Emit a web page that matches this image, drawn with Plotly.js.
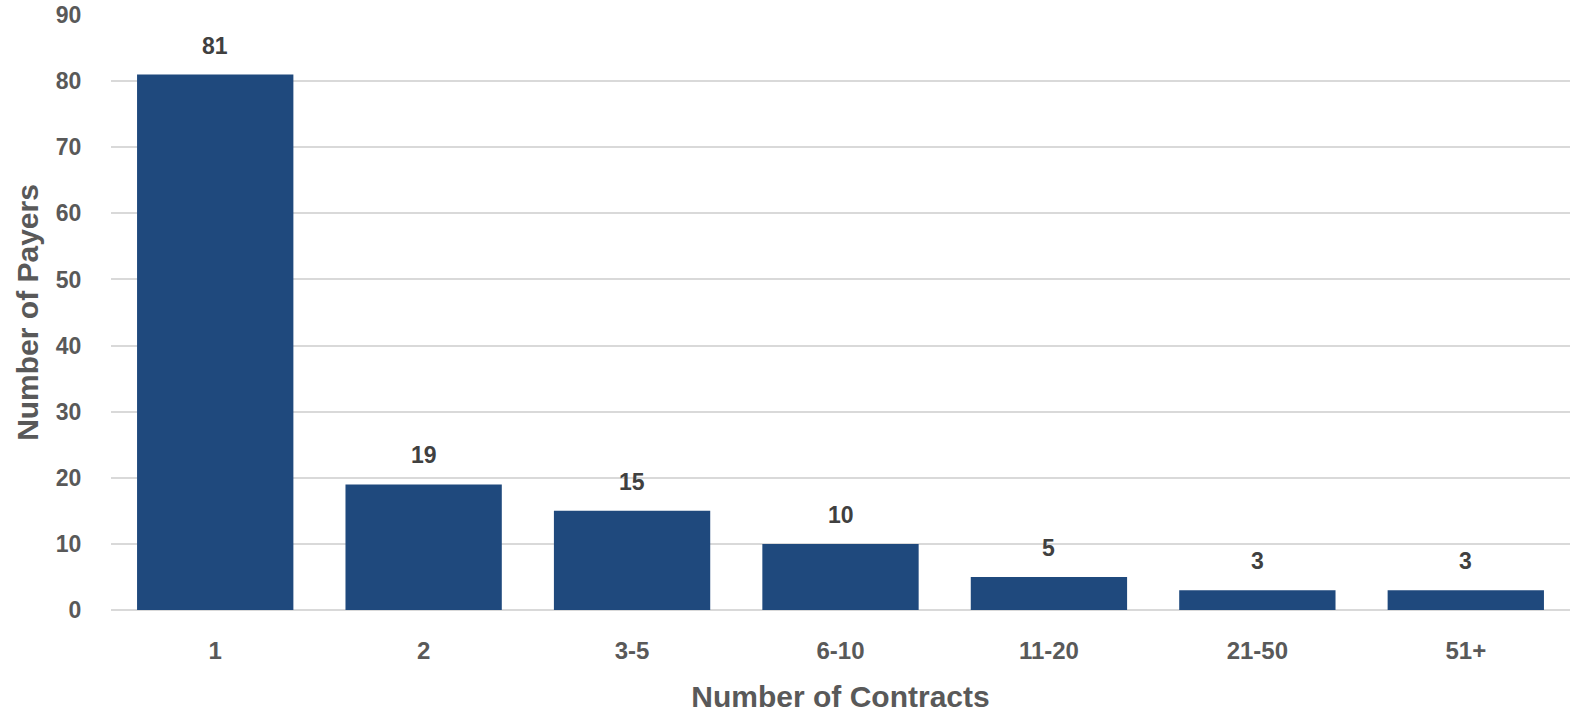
<!DOCTYPE html>
<html><head><meta charset="utf-8">
<script src="https://cdn.plot.ly/plotly-3.0.1.min.js"></script>
<style>html,body{margin:0;padding:0;background:#fff}#c{width:1571px;height:714px}</style>
</head><body><div id="c"></div>
<script>
const categories = ["1","2","3-5","6-10","11-20","21-50","51+"];
const payers = [81,19,15,10,5,3,3];
const yTicks = [0,10,20,30,40,50,60,70,80,90];

const FONT = 'Liberation Sans, Arial, sans-serif';
const trace = {
  type:'bar', x:categories, y:payers,
  marker:{color:'#1f497d'},
  hoverinfo:'x+y'
};
// category axis: annotation x given as category index
const labels = categories.map((c,i)=>({
  x:i, y:payers[i], xref:'x', yref:'y', text:String(payers[i]),
  showarrow:false, yanchor:'bottom', yshift:14,
  font:{family:FONT, size:23, color:'#404040', weight:'bold'}
}));
const layout = {
  width:1571, height:714,
  margin:{l:111, r:1, t:15, b:104},
  paper_bgcolor:'#fff', plot_bgcolor:'#fff',
  bargap:0.25, showlegend:false,
  font:{family:FONT, color:'#595959'},
  annotations:labels,
  xaxis:{
    type:'category', showgrid:false, zeroline:false, showline:false,
    ticks:'outside', ticklen:19, tickcolor:'rgba(0,0,0,0)',
    tickfont:{size:24, color:'#595959', weight:'bold'},
    title:{text:'Number of Contracts', font:{size:30, color:'#595959', weight:'bold'}, standoff:23}
  },
  yaxis:{
    range:[0,90], tickvals:yTicks, ticktext:yTicks.map(String),
    showgrid:true, gridcolor:'#d9d9d9', gridwidth:2,
    zeroline:true, zerolinecolor:'#d9d9d9', zerolinewidth:2,
    showline:false, ticks:'outside', ticklen:24, tickcolor:'rgba(0,0,0,0)',
    tickfont:{size:23, color:'#595959', weight:'bold'},
    title:{text:'Number of Payers', font:{size:30, color:'#595959', weight:'bold'}, standoff:8}
  }
};
Plotly.newPlot('c',[trace],layout,{displayModeBar:false, staticPlot:true});
</script></body></html>
